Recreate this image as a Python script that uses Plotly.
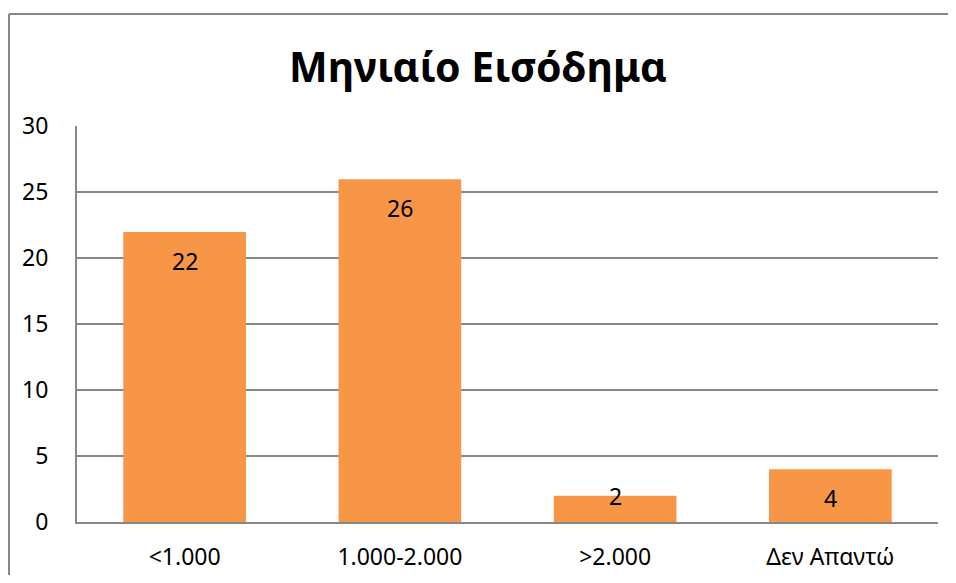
import plotly.graph_objects as go

categories = ["<1.000", "1.000-2.000", ">2.000", "Δεν Απαντώ"]
values = [22, 26, 2, 4]
title = "Μηνιαίο Εισόδημα"

bar_color = "#F79646"
grid_color = "#878787"
font_family = "Noto Sans, Open Sans, sans-serif"

# page has an 8px body margin; keep the figure inside the window (no scrollbars)
W, H = 940, 567
ml, mr, mt, mb = 69, 10, 118, 53
pw, ph = W - ml - mr, H - mt - mb

fig = go.Figure()
fig.add_trace(go.Bar(
    x=categories,
    y=values,
    marker=dict(color=bar_color, line=dict(width=0)),
    hoverinfo="x+y",
))

# data labels at the inside end of each bar (short bars get it on the edge)
for c, v in zip(categories, values):
    fig.add_annotation(x=c, y=v, text=str(v), showarrow=False,
                       yanchor="middle", yshift=-29 if v > 3 else 0,
                       font=dict(size=23, color="black", family=font_family))

fig.update_layout(
    width=W, height=H,
    margin=dict(l=ml, r=mr, t=mt, b=mb, autoexpand=False),
    paper_bgcolor="white",
    plot_bgcolor="white",
    bargap=0.43,
    showlegend=False,
    font=dict(family=font_family, size=23, color="black"),
    title=dict(text="<b>" + title + "</b>", x=0.5, xanchor="center",
               y=1 - 60 / H, yanchor="middle",
               font=dict(size=41, family=font_family, color="black")),
    xaxis=dict(showline=True, linecolor=grid_color, linewidth=2,
               ticks="", showgrid=False, tickfont=dict(size=23),
               ticklabelstandoff=13, automargin=False),
    yaxis=dict(range=[0, 30.03], tickvals=[0, 5, 10, 15, 20, 25, 30],
               showline=True, linecolor=grid_color, automargin=False,
               linewidth=2, showgrid=True, gridcolor=grid_color, gridwidth=1.6,
               zeroline=False, ticks="", tickfont=dict(size=23), ticklabelstandoff=22),
)

# chart border: only the left and top edges are inside the window
bx = (1 - ml) / pw
by = 1 + (mt - 6) / ph
fig.add_shape(type="line", xref="paper", yref="paper", x0=bx, x1=bx, y0=-0.3, y1=by,
              line=dict(color="#868686", width=2), layer="below")
fig.add_shape(type="line", xref="paper", yref="paper", x0=bx, x1=1.2, y0=by, y1=by,
              line=dict(color="#868686", width=2), layer="below")

fig.write_html("out.html")
